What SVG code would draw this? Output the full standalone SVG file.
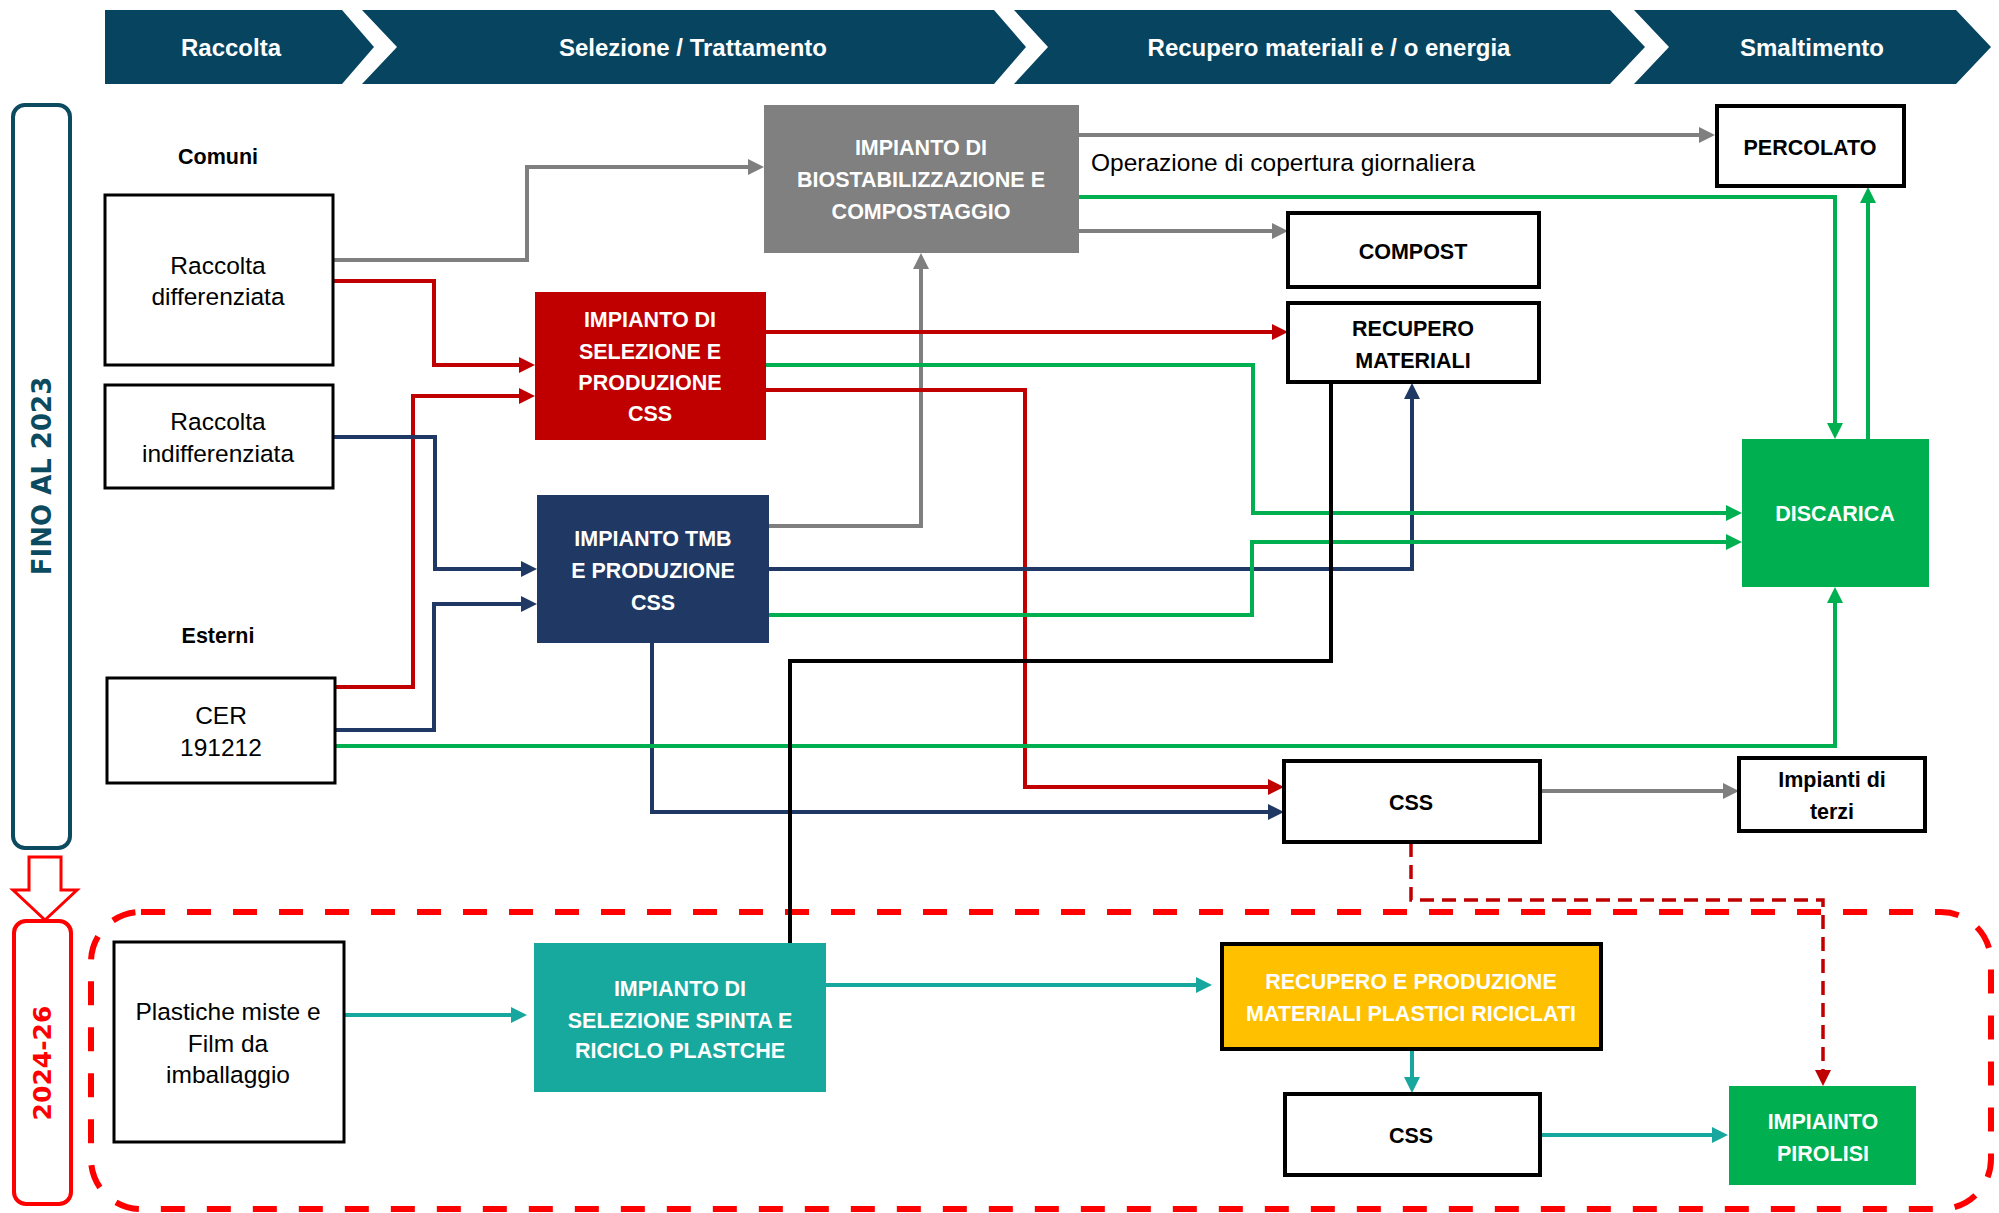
<svg xmlns="http://www.w3.org/2000/svg" width="1999" height="1213" viewBox="0 0 1999 1213">
<style>
.hdr{fill:#07445F}
.ht{font-family:"Liberation Sans",Arial,sans-serif;font-weight:bold;font-size:24px;fill:#fff;text-anchor:middle}
.t{font-family:"Liberation Sans",Arial,sans-serif;font-size:24.5px;fill:#000;text-anchor:middle}
.tb{font-family:"Liberation Sans",Arial,sans-serif;font-size:21.5px;font-weight:bold;fill:#000;text-anchor:middle}
.tw{font-family:"Liberation Sans",Arial,sans-serif;font-size:21.5px;font-weight:bold;fill:#fff;text-anchor:middle}
.box{fill:#fff;stroke:#000;stroke-width:3}
.boxk{fill:#fff;stroke:#000;stroke-width:4}
.c{fill:none;stroke-width:4;stroke-linejoin:miter}
.gy{stroke:#7F7F7F}.rd{stroke:#C00000}.nv{stroke:#1F3864}.gn{stroke:#00B050}.tl{stroke:#17A79F}.bk{stroke:#000}
</style>
<defs>
<marker id="aGy" markerUnits="userSpaceOnUse" markerWidth="16" markerHeight="16" refX="10" refY="8" orient="auto"><path d="M0,0L16,8L0,16z" fill="#7F7F7F"/></marker>
<marker id="aRd" markerUnits="userSpaceOnUse" markerWidth="16" markerHeight="16" refX="10" refY="8" orient="auto"><path d="M0,0L16,8L0,16z" fill="#C00000"/></marker>
<marker id="aNv" markerUnits="userSpaceOnUse" markerWidth="16" markerHeight="16" refX="10" refY="8" orient="auto"><path d="M0,0L16,8L0,16z" fill="#1F3864"/></marker>
<marker id="aGn" markerUnits="userSpaceOnUse" markerWidth="16" markerHeight="16" refX="10" refY="8" orient="auto"><path d="M0,0L16,8L0,16z" fill="#00B050"/></marker>
<marker id="aTl" markerUnits="userSpaceOnUse" markerWidth="16" markerHeight="16" refX="10" refY="8" orient="auto"><path d="M0,0L16,8L0,16z" fill="#17A79F"/></marker>
</defs>
<rect width="1999" height="1213" fill="#fff"/>

<g id="header">
<polygon class="hdr" points="105,10 342,10 374,47 342,84 105,84"/>
<polygon class="hdr" points="362,10 994,10 1026,47 994,84 362,84 397,47"/>
<polygon class="hdr" points="1014,10 1610,10 1645,47 1610,84 1014,84 1048,47"/>
<polygon class="hdr" points="1634,10 1956,10 1991,47 1956,84 1634,84 1669,47"/>
<text class="ht" x="231" y="56">Raccolta</text>
<text class="ht" x="693" y="56">Selezione / Trattamento</text>
<text class="ht" x="1329" y="56">Recupero materiali e / o energia</text>
<text class="ht" x="1812" y="56">Smaltimento</text>
</g>

<g id="periodo-fino-2023">
<rect x="13" y="105" width="57" height="743" rx="12" fill="#fff" stroke="#0C4A60" stroke-width="4"/>
<text transform="translate(51,476) rotate(-90)" text-anchor="middle" font-family="DejaVu Sans,Verdana,sans-serif" font-weight="bold" font-size="26" fill="#0C4A60">FINO AL 2023</text>
</g>
<g id="freccia-periodo">
<polygon points="29,857 61,857 61,890 77,890 45,920 13,890 29,890" fill="#fff" stroke="#FF0000" stroke-width="3"/>
</g>
<g id="periodo-2024-26">
<rect x="14" y="921" width="57" height="283" rx="12" fill="#fff" stroke="#FF0000" stroke-width="4"/>
<text transform="translate(51,1063) rotate(-90)" text-anchor="middle" font-family="DejaVu Sans,Verdana,sans-serif" font-weight="bold" font-size="25" fill="#FF0000">2024-26</text>
</g>
<g id="area-2024-26">
<rect x="91" y="912" width="1900" height="297" rx="50" fill="none" stroke="#FF0000" stroke-width="6" stroke-dasharray="24 22"/>
</g>

<g id="connectors">
<path class="c gy" d="M333,260H527V167H758" marker-end="url(#aGy)"/>
<path class="c gy" d="M1079,135H1709" marker-end="url(#aGy)"/>
<path class="c gy" d="M1079,231H1282" marker-end="url(#aGy)"/>
<path class="c gy" d="M769,526H921V259" marker-end="url(#aGy)"/>
<path class="c gy" d="M1540,791H1733" marker-end="url(#aGy)"/>
<path class="c rd" d="M333,281H434V365H529" marker-end="url(#aRd)"/>
<path class="c rd" d="M335,687H413V396H529" marker-end="url(#aRd)"/>
<path class="c rd" d="M766,332H1282" marker-end="url(#aRd)"/>
<path class="c rd" d="M766,390H1025V787H1278" marker-end="url(#aRd)"/>
<path class="c nv" d="M333,437H435V569H531" marker-end="url(#aNv)"/>
<path class="c nv" d="M335,730H434V604H531" marker-end="url(#aNv)"/>
<path class="c nv" d="M769,569H1412V389" marker-end="url(#aNv)"/>
<path class="c nv" d="M652,643V812H1278" marker-end="url(#aNv)"/>
<path class="c gn" d="M1079,197H1835V433" marker-end="url(#aGn)"/>
<path class="c gn" d="M1868,439V193" marker-end="url(#aGn)"/>
<path class="c gn" d="M766,365H1253V513H1736" marker-end="url(#aGn)"/>
<path class="c gn" d="M766,615H1252V542H1736" marker-end="url(#aGn)"/>
<path class="c gn" d="M335,746H1835V593" marker-end="url(#aGn)"/>
<path class="c bk" d="M1331,383V661H790V943"/>
<path class="c tl" d="M344,1015H521" marker-end="url(#aTl)"/>
<path class="c tl" d="M826,985H1206" marker-end="url(#aTl)"/>
<path class="c tl" d="M1412,1049V1087" marker-end="url(#aTl)"/>
<path class="c tl" d="M1540,1135H1722" marker-end="url(#aTl)"/>
<path fill="none" stroke="#C00000" stroke-width="3.5" stroke-dasharray="14 8" d="M1411,843V900H1823V1080" marker-end="url(#aRd)"/>
</g>

<g id="label-comuni"><text class="tb" x="218" y="164" font-size="22.5">Comuni</text></g>
<g id="label-esterni"><text class="tb" x="218" y="643" font-size="22.5">Esterni</text></g>
<g id="label-operazione"><text x="1091" y="171" font-family="Liberation Sans,Arial,sans-serif" font-size="24.5" fill="#000">Operazione di copertura giornaliera</text></g>

<g id="raccolta-differenziata">
<rect class="box" x="105" y="195" width="228" height="170"/>
<text class="t" x="218" y="274">Raccolta</text>
<text class="t" x="218" y="305">differenziata</text>
</g>
<g id="raccolta-indifferenziata">
<rect class="box" x="105" y="385" width="228" height="103"/>
<text class="t" x="218" y="430">Raccolta</text>
<text class="t" x="218" y="462">indifferenziata</text>
</g>
<g id="cer-191212">
<rect class="box" x="107" y="678" width="228" height="105"/>
<text class="t" x="221" y="724">CER</text>
<text class="t" x="221" y="756">191212</text>
</g>
<g id="impianto-biostabilizzazione">
<rect x="764" y="105" width="315" height="148" fill="#808080"/>
<text class="tw" x="921" y="155">IMPIANTO DI</text>
<text class="tw" x="921" y="187">BIOSTABILIZZAZIONE E</text>
<text class="tw" x="921" y="219">COMPOSTAGGIO</text>
</g>
<g id="impianto-selezione-css">
<rect x="535" y="292" width="231" height="148" fill="#C00000"/>
<text class="tw" x="650" y="327">IMPIANTO DI</text>
<text class="tw" x="650" y="359">SELEZIONE E</text>
<text class="tw" x="650" y="390">PRODUZIONE</text>
<text class="tw" x="650" y="421">CSS</text>
</g>
<g id="impianto-tmb">
<rect x="537" y="495" width="232" height="148" fill="#1F3864"/>
<text class="tw" x="653" y="546">IMPIANTO TMB</text>
<text class="tw" x="653" y="578">E PRODUZIONE</text>
<text class="tw" x="653" y="610">CSS</text>
</g>
<g id="percolato">
<rect class="boxk" x="1717" y="106" width="187" height="80"/>
<text class="tb" x="1810" y="155">PERCOLATO</text>
</g>
<g id="compost">
<rect class="boxk" x="1288" y="213" width="251" height="74"/>
<text class="tb" x="1413" y="259">COMPOST</text>
</g>
<g id="recupero-materiali">
<rect class="boxk" x="1288" y="303" width="251" height="79"/>
<text class="tb" x="1413" y="336">RECUPERO</text>
<text class="tb" x="1413" y="368">MATERIALI</text>
</g>
<g id="discarica">
<rect x="1742" y="439" width="187" height="148" fill="#00B050"/>
<text class="tw" x="1835" y="521">DISCARICA</text>
</g>
<g id="css">
<rect class="boxk" x="1284" y="761" width="256" height="81"/>
<text class="tb" x="1411" y="810">CSS</text>
</g>
<g id="impianti-terzi">
<rect class="boxk" x="1739" y="758" width="186" height="73"/>
<text class="tb" x="1832" y="787">Impianti di</text>
<text class="tb" x="1832" y="819">terzi</text>
</g>
<g id="plastiche-miste">
<rect class="box" x="114" y="942" width="230" height="200"/>
<text class="t" x="228" y="1020">Plastiche miste e</text>
<text class="t" x="228" y="1052">Film da</text>
<text class="t" x="228" y="1083">imballaggio</text>
</g>
<g id="impianto-selezione-spinta">
<rect x="534" y="943" width="292" height="149" fill="#17A89E"/>
<text class="tw" x="680" y="996">IMPIANTO DI</text>
<text class="tw" x="680" y="1028">SELEZIONE SPINTA E</text>
<text class="tw" x="680" y="1058">RICICLO PLASTCHE</text>
</g>
<g id="recupero-plastici">
<rect x="1222" y="944" width="379" height="105" fill="#FFC000" stroke="#000" stroke-width="4"/>
<text class="tw" x="1411" y="989">RECUPERO E PRODUZIONE</text>
<text class="tw" x="1411" y="1021">MATERIALI PLASTICI RICICLATI</text>
</g>
<g id="css-2">
<rect class="boxk" x="1285" y="1094" width="255" height="81"/>
<text class="tb" x="1411" y="1143">CSS</text>
</g>
<g id="impianto-pirolisi">
<rect x="1729" y="1086" width="187" height="99" fill="#00B050"/>
<text class="tw" x="1823" y="1129">IMPIAINTO</text>
<text class="tw" x="1823" y="1161">PIROLISI</text>
</g>
</svg>
